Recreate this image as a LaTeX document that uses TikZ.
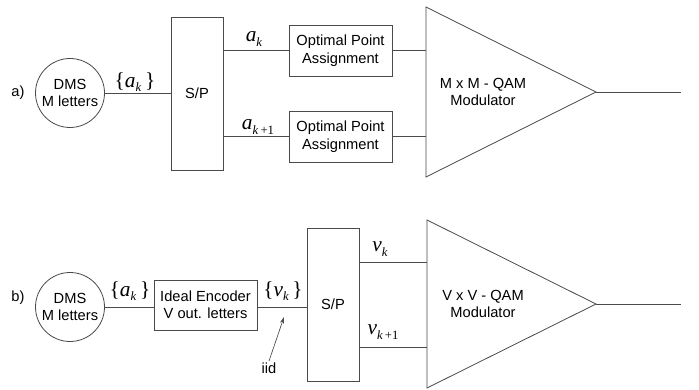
\documentclass[tikz,border=0pt]{standalone}
\usepackage{fontspec}
\setmainfont{Liberation Sans}
\newfontfamily\symfont{Liberation Serif}
\usetikzlibrary{arrows.meta,positioning,calc}
\definecolor{ink}{HTML}{4A4A4A}
\tikzset{
  blk/.style   ={draw=ink, line width=0.6pt, align=center, inner sep=0pt,
                 font=\fontsize{11}{12.5}\selectfont},
  src/.style   ={blk, circle, minimum size=51.75pt},
  spbox/.style ={blk, minimum width=39pt, minimum height=114.75pt},
  opa/.style   ={blk, minimum width=77.25pt, minimum height=38.25pt,
                 font=\fontsize{11}{13.5}\selectfont},
  txt/.style   ={blk, draw=none},
  wire/.style  ={draw=ink, line width=0.6pt},
  sym/.style   ={font=\symfont\fontsize{16}{16}\selectfont, inner sep=1pt},
  tag/.style   ={font=\fontsize{11}{12}\selectfont, inner sep=1pt},
  ptr/.style   ={draw=ink, line width=0.5pt, -{Stealth[length=5pt,width=3pt]}},
}
\newcommand{\sy}[2]{\textit{#1}\raisebox{-0.45ex}{\fontsize{9.5}{9.5}\selectfont #2}}

\begin{document}
\begin{tikzpicture}[x=0.75pt,y=0.75pt]
  \useasboundingbox (0,0) rectangle (699,389);
  % a) source mapped straight onto the QAM points
  \node[tag] (tagA) at (18,296) {a)};
  \node[src] (dmsA) at (70,296) {DMS\\M letters};
  \node[spbox] (spA) at (197,295.5) {S/P};
  \node[opa] (opa1) at (340.5,338.5) {Optimal Point\\Assignment};
  \node[opa] (opa2) at (340.5,252.5) {Optimal Point\\Assignment};
  \draw[wire] (426,382) coordinate (triA1) -- (596,297) coordinate (triA)
        -- (426,212) coordinate (triA2) -- cycle;
  \node[txt] (modA) at (483,297) {M x M - QAM\\Modulator};
  \coordinate (outA) at (681,297);
  \draw[wire] (dmsA) -- (spA.west |- dmsA);
  \draw[wire] (spA.east |- opa1) -- (opa1.west);
  \draw[wire] (spA.east |- opa2) -- (opa2.west);
  \draw[wire] (opa1.east) -- (opa1.east -| triA1);
  \draw[wire] (opa2.east) -- (opa2.east -| triA1);
  \draw[wire] (triA) -- (outA);
  \node[sym] (seqA) at (135,307) {\{\sy{a}{\textit{k}}\,\}};
  \node[sym] (symA1) at (254,350) {\sy{a}{\textit{k}}};
  \node[sym] (symA2) at (258,262) {\sy{a}{\textit{k}\,+1}};
  % b) ideal encoder in front of the S/P
  \node[tag] (tagB) at (18,91) {b)};
  \node[src] (dmsB) at (70,82) {DMS\\M letters};
  \node[blk, minimum width=77.25pt, minimum height=37.5pt] (enc) at (205.5,84)
        {Ideal Encoder\\V out. letters};
  \node[spbox] (spB) at (333,84.5) {S/P};
  \draw[wire] (427,169) coordinate (triB1) -- (596,85) coordinate (triB)
        -- (427,1) coordinate (triB2) -- cycle;
  \node[txt] (modB) at (483,85) {V x V - QAM\\Modulator};
  \coordinate (outB) at (681,85);
  \coordinate (inB1) at (427,127);
  \coordinate (inB2) at (427,42);
  \draw[wire] (dmsB) -- (enc.west |- dmsB);
  \draw[wire] (enc.east |- dmsB) -- (spB.west |- dmsB);
  \draw[wire] (spB.east |- inB1) -- (inB1);
  \draw[wire] (spB.east |- inB2) -- (inB2);
  \draw[wire] (triB) -- (outB);
  \node[sym] (seqB) at (130,98) {\{\sy{a}{\textit{k}}\,\}};
  \node[sym] (seqV) at (283,98) {\{\sy{v}{\textit{k}}\,\}};
  \node[sym] (symB1) at (380,140) {\sy{v}{\textit{k}}};
  \node[sym] (symB2) at (383,57) {\sy{v}{\textit{k}\,+1}};
  \node[tag] (iid) at (269,21) {iid};
  \coordinate (iidTip) at (284,72);
  \draw[ptr] (iid.north) -- (iidTip);
\end{tikzpicture}
\end{document}
